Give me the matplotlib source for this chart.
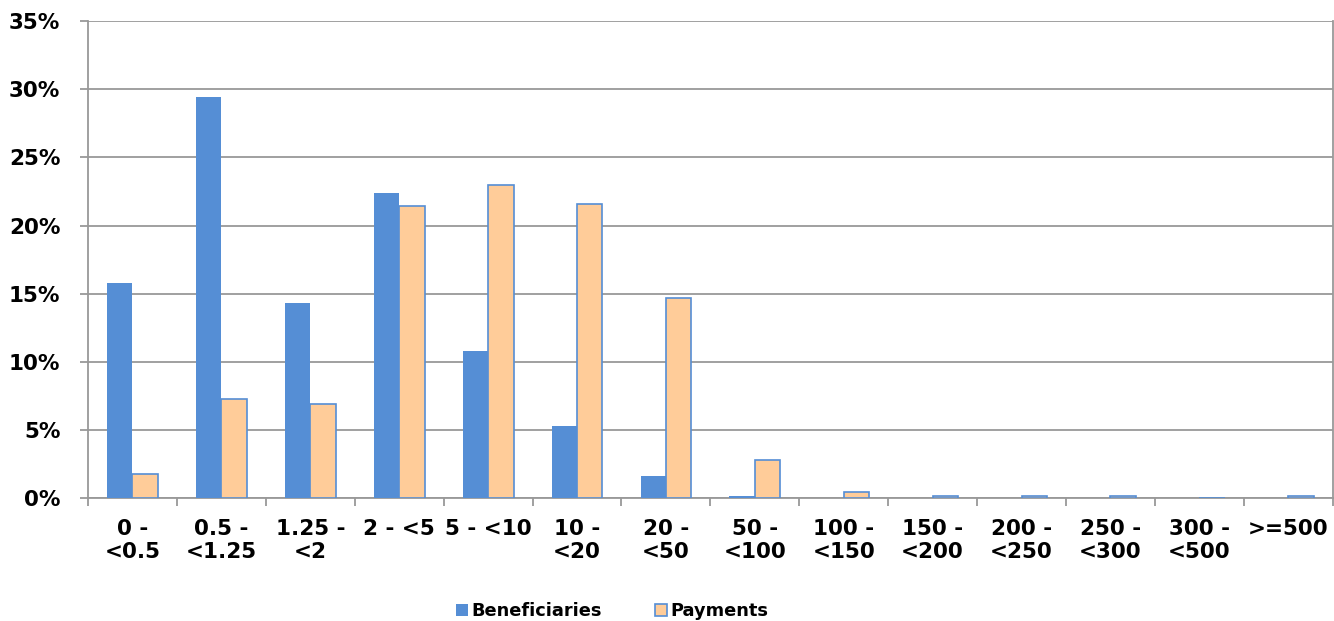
import numpy as np
import matplotlib.pyplot as plt
from matplotlib.ticker import FixedLocator, NullFormatter

categories = ["0 -\n<0.5", "0.5 -\n<1.25", "1.25 -\n<2", "2 - <5", "5 - <10",
              "10 -\n<20", "20 -\n<50", "50 -\n<100", "100 -\n<150", "150 -\n<200",
              "200 -\n<250", "250 -\n<300", "300 -\n<500", ">=500"]
beneficiaries = [15.8, 29.4, 14.3, 22.4, 10.8, 5.3, 1.65, 0.15, 0.02, 0.01, 0.0, 0.0, 0.0, 0.0]
payments = [1.76, 7.26, 6.9, 21.4, 23.0, 21.6, 14.7, 2.8, 0.48, 0.15, 0.15, 0.15, 0.0, 0.15]

plt.rcParams['font.family'] = ['DejaVu Sans']
plt.rcParams['font.weight'] = 'bold'

fig = plt.figure(figsize=(13.34, 6.21), dpi=100)
ax = fig.add_axes([0.066, 0.198, 0.933, 0.768])

x = np.arange(len(categories))
w = 1 / 3.5
ax.bar(x - w / 2, beneficiaries, w, color='#558ED5', label='Beneficiaries', zorder=3)
ax.bar(x + w / 2, payments, w, color='#FFCC99', edgecolor='#558ED5', linewidth=1.2,
       label='Payments', zorder=3)

ax.set_xlim(-0.5, len(categories) - 0.5)
ax.set_ylim(0, 35)
ax.set_yticks(np.arange(0, 36, 5))
ax.set_yticklabels([f"{v}%" for v in range(0, 36, 5)], fontsize=15.5, fontweight='bold')
ax.yaxis.grid(True, color='#999999', linewidth=1.3, zorder=0)

ax.xaxis.set_major_locator(FixedLocator(np.arange(-0.5, len(categories), 1)))
ax.xaxis.set_major_formatter(NullFormatter())
ax.xaxis.set_minor_locator(FixedLocator(x))
ax.set_xticklabels(categories, minor=True, fontsize=15.5, fontweight='bold', linespacing=1.2)
ax.tick_params(axis='x', which='minor', length=0, pad=15)
ax.tick_params(axis='x', which='major', length=6, color='#999999', width=1.3)
ax.tick_params(axis='y', length=6, color='#999999', width=1.3, pad=14)

ax.spines['top'].set_visible(False)
for s in ['left', 'bottom', 'right']:
    ax.spines[s].set_color('#999999')
    ax.spines[s].set_linewidth(1.3)

fig.legend(loc='center', bbox_to_anchor=(0.459, 0.016), ncol=2, frameon=False,
           prop={'size': 12.8, 'weight': 'bold'}, handlelength=0.65, handleheight=0.7,
           handletextpad=0.2, columnspacing=3.0)

fig.savefig('out.png', dpi=100)
